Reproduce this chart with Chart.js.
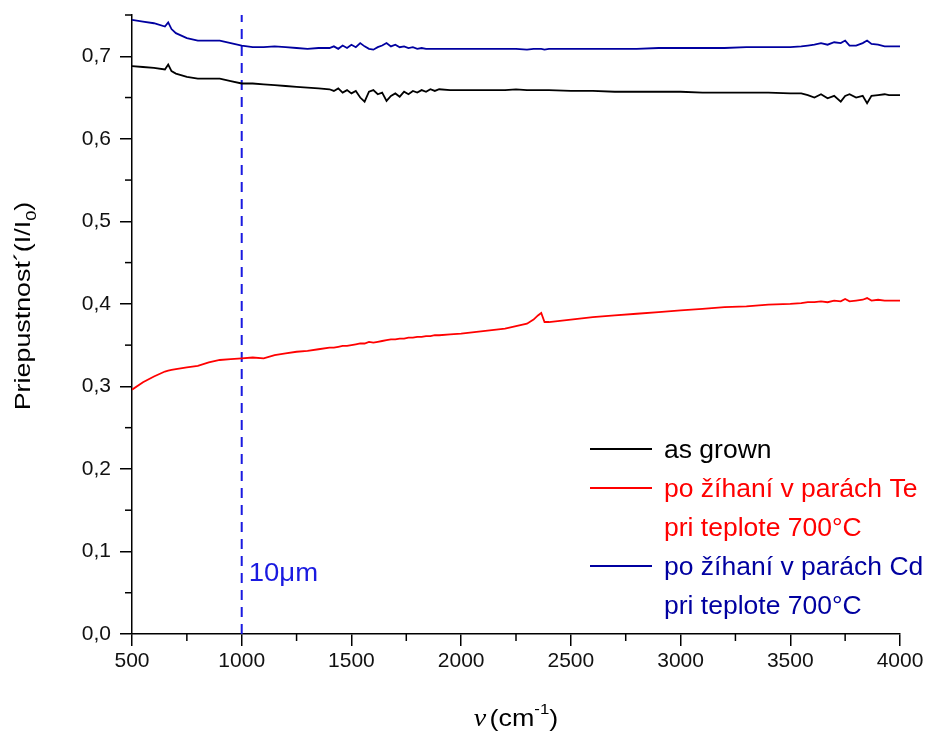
<!DOCTYPE html>
<html>
<head>
<meta charset="utf-8">
<script src="https://cdn.jsdelivr.net/npm/chart.js@4/dist/chart.umd.min.js"></script>
<style>
  body { margin: 0; background: #fff; }
  #wrap { width: 930px; height: 735px; }
</style>
</head>
<body>
<div id="wrap"><canvas id="chart" width="930" height="735"></canvas></div>
<script>
// wavenumber (cm-1), shared by all three spectra
const wavenumber = [500, 550, 600, 650, 665, 680, 700, 750, 800, 850, 900, 950, 1000, 1050, 1100, 1150, 1200, 1250, 1300, 1350,
  1400, 1420, 1440, 1460, 1480, 1500, 1520, 1540, 1560, 1580, 1600, 1620, 1640, 1660, 1680, 1700, 1720, 1740, 1760, 1780,
  1800, 1820, 1840, 1860, 1880, 1900, 1950, 2000, 2100, 2200, 2250, 2300, 2330, 2350, 2365, 2380, 2400, 2500, 2600, 2700,
  2800, 2900, 3000, 3100, 3200, 3300, 3400, 3500, 3550, 3580, 3610, 3640, 3670, 3700, 3730, 3750, 3770, 3800, 3830, 3850,
  3870, 3900, 3930, 3950, 4000];

const asGrown = [0.688, 0.687, 0.686, 0.684, 0.690, 0.682, 0.679, 0.675, 0.673, 0.673, 0.673, 0.670, 0.667, 0.667, 0.666, 0.665, 0.664, 0.663, 0.662, 0.661,
  0.660, 0.658, 0.661, 0.656, 0.659, 0.655, 0.658, 0.650, 0.645, 0.657, 0.659, 0.654, 0.656, 0.646, 0.652, 0.655, 0.651, 0.657, 0.654, 0.658,
  0.656, 0.659, 0.657, 0.660, 0.658, 0.660, 0.659, 0.659, 0.659, 0.659, 0.660, 0.659, 0.659, 0.659, 0.659, 0.659, 0.659, 0.658, 0.658, 0.657,
  0.657, 0.657, 0.657, 0.656, 0.656, 0.656, 0.656, 0.655, 0.655, 0.653, 0.650, 0.654, 0.649, 0.652, 0.645, 0.652, 0.654, 0.650, 0.652, 0.643,
  0.652, 0.653, 0.654, 0.653, 0.653];

const teAnnealed = [0.296, 0.305, 0.312, 0.318, 0.319, 0.320, 0.321, 0.323, 0.325, 0.329, 0.332, 0.333, 0.334, 0.335, 0.334, 0.338, 0.340, 0.342, 0.343, 0.345,
  0.347, 0.347, 0.348, 0.349, 0.349, 0.350, 0.351, 0.352, 0.352, 0.354, 0.353, 0.354, 0.355, 0.356, 0.357, 0.357, 0.358, 0.358, 0.359, 0.359,
  0.360, 0.360, 0.361, 0.361, 0.362, 0.362, 0.363, 0.364, 0.367, 0.370, 0.373, 0.376, 0.381, 0.386, 0.389, 0.378, 0.378, 0.381, 0.384, 0.386,
  0.388, 0.390, 0.392, 0.394, 0.396, 0.397, 0.399, 0.400, 0.401, 0.402, 0.402, 0.403, 0.402, 0.404, 0.403, 0.406, 0.403, 0.404, 0.405, 0.407,
  0.404, 0.405, 0.404, 0.404, 0.404];

const cdAnnealed = [0.744, 0.742, 0.740, 0.736, 0.741, 0.733, 0.728, 0.722, 0.719, 0.719, 0.719, 0.716, 0.713, 0.711, 0.711, 0.712, 0.711, 0.710, 0.709, 0.710,
  0.710, 0.712, 0.709, 0.713, 0.710, 0.714, 0.711, 0.716, 0.712, 0.709, 0.708, 0.711, 0.713, 0.716, 0.712, 0.714, 0.711, 0.712, 0.710, 0.711,
  0.709, 0.710, 0.709, 0.709, 0.709, 0.709, 0.709, 0.709, 0.709, 0.709, 0.709, 0.708, 0.709, 0.709, 0.709, 0.708, 0.709, 0.709, 0.709, 0.709,
  0.709, 0.710, 0.710, 0.710, 0.710, 0.711, 0.711, 0.711, 0.712, 0.713, 0.714, 0.716, 0.714, 0.717, 0.716, 0.719, 0.713, 0.713, 0.716, 0.719,
  0.715, 0.714, 0.712, 0.712, 0.712];

// 10 um marker
const markerX = [1000, 1000];
const markerY = [0, 0.75];

const xTicks = [500, 1000, 1500, 2000, 2500, 3000, 3500, 4000];
const yTicks = [0, 0.1, 0.2, 0.3, 0.4, 0.5, 0.6, 0.7];

const legendLines = [
  { text: "as grown", color: "#000000", sample: true },
  { text: "po žíhaní v parách Te", color: "#ff0000", sample: true },
  { text: "pri teplote 700°C", color: "#ff0000", sample: false },
  { text: "po žíhaní v parách Cd", color: "#0000a0", sample: true },
  { text: "pri teplote 700°C", color: "#0000a0", sample: false }
];

const FONT = "'Liberation Sans', Arial, sans-serif";

function pairs(xs, ys) {
  return xs.map((x, i) => ({ x: x, y: ys[i] }));
}

// pieces of text drawn one after another, stretched along the text direction
function drawRuns(ctx, runs, x, y, stretch) {
  let total = 0;
  runs.forEach(r => { ctx.font = r.font; r.w = ctx.measureText(r.text).width; total += r.w + (r.gap || 0); });
  ctx.save();
  ctx.translate(x, y);
  ctx.scale(stretch, 1);
  let cx = -total / 2;
  runs.forEach(r => {
    ctx.font = r.font;
    ctx.fillText(r.text, cx, r.dy || 0);
    cx += r.w + (r.gap || 0);
  });
  ctx.restore();
}

// minor ticks, titles with sub/superscripts, 10um label and legend
const decorPlugin = {
  id: "decor",
  afterDraw(chart) {
    const ctx = chart.ctx;
    const xs = chart.scales.x, ys = chart.scales.y;
    const area = chart.chartArea;
    ctx.save();
    ctx.strokeStyle = "#000";
    ctx.lineWidth = 1.5;
    for (let v = 750; v < 4000; v += 500) {
      const px = xs.getPixelForValue(v);
      ctx.beginPath();
      ctx.moveTo(px, area.bottom);
      ctx.lineTo(px, area.bottom + 7);
      ctx.stroke();
    }
    for (let v = 0.05; v < 0.75; v += 0.1) {
      const py = ys.getPixelForValue(v);
      ctx.beginPath();
      ctx.moveTo(area.left, py);
      ctx.lineTo(area.left - 7, py);
      ctx.stroke();
    }

    ctx.fillStyle = "#000";
    ctx.textAlign = "left";
    ctx.textBaseline = "alphabetic";

    // y title
    ctx.save();
    ctx.translate(30, 306);
    ctx.rotate(-Math.PI / 2);
    drawRuns(ctx, [
      { text: "Priepustnost´(I/I", font: "22px " + FONT },
      { text: "0", font: "15px " + FONT, dy: 6 },
      { text: ")", font: "22px " + FONT }
    ], 0, 0, 1.22);
    ctx.restore();

    // x title
    drawRuns(ctx, [
      { text: "ν", font: "italic 25px 'Liberation Serif', serif", gap: 3 },
      { text: "(cm", font: "24px " + FONT },
      { text: "-1", font: "15px " + FONT, dy: -12 },
      { text: ")", font: "24px " + FONT }
    ], (area.left + area.right) / 2, 726, 1.12);

    // 10um label
    ctx.fillStyle = "#1a1ae0";
    ctx.textBaseline = "middle";
    ctx.save();
    ctx.translate(xs.getPixelForValue(1000) + 7, ys.getPixelForValue(0.072));
    ctx.scale(1.1, 1);
    ctx.font = "25px " + FONT;
    ctx.fillText("10μm", 0, 0);
    ctx.restore();

    // legend
    legendLines.forEach((item, i) => {
      const y = 451 + i * 39;
      if (item.sample) {
        ctx.strokeStyle = item.color;
        ctx.lineWidth = 1.8;
        ctx.beginPath();
        ctx.moveTo(590, y - 2);
        ctx.lineTo(652, y - 2);
        ctx.stroke();
      }
      ctx.fillStyle = item.color;
      ctx.save();
      ctx.translate(664, y);
      ctx.scale(1.06, 1);
      ctx.font = "25px " + FONT;
      ctx.fillText(item.text, 0, 0);
      ctx.restore();
    });
    ctx.restore();
  }
};

const ctx = document.getElementById("chart").getContext("2d");
new Chart(ctx, {
  type: "line",
  data: {
    datasets: [
      { label: "as grown", data: pairs(wavenumber, asGrown), borderColor: "#000000" },
      { label: "po žíhaní v parách Te", data: pairs(wavenumber, teAnnealed), borderColor: "#ff0000" },
      { label: "po žíhaní v parách Cd", data: pairs(wavenumber, cdAnnealed), borderColor: "#0000a0" },
      { label: "10um", data: pairs(markerX, markerY), borderColor: "#1a1ae0", borderDash: [10, 7], borderWidth: 2 }
    ]
  },
  options: {
    responsive: false,
    animation: false,
    layout: { padding: { left: 0, top: 15, right: 30, bottom: 0 } },
    elements: {
      point: { radius: 0 },
      line: { borderWidth: 1.8, tension: 0 }
    },
    plugins: {
      legend: { display: false },
      tooltip: { enabled: false }
    },
    scales: {
      x: {
        type: "linear",
        min: 500,
        max: 4000,
        afterBuildTicks: s => { s.ticks = xTicks.map(v => ({ value: v })); },
        afterFit: s => { s.height = 101; s.paddingLeft = 0; s.paddingRight = 0; },
        grid: { drawOnChartArea: false, drawTicks: true, tickLength: 12, color: "#000", lineWidth: 1.5 },
        border: { display: true, color: "#000", width: 1.5 },
        ticks: { color: "#111", font: { family: FONT, size: 21 }, padding: 3, maxRotation: 0, callback: v => String(v) }
      },
      y: {
        type: "linear",
        min: 0,
        max: 0.75,
        afterBuildTicks: s => { s.ticks = yTicks.map(v => ({ value: v })); },
        afterFit: s => { s.width = 132; s.paddingTop = 0; s.paddingBottom = 0; },
        grid: { drawOnChartArea: false, drawTicks: true, tickLength: 12, color: "#000", lineWidth: 1.5 },
        border: { display: true, color: "#000", width: 1.5 },
        ticks: {
          color: "#111",
          font: { family: FONT, size: 21 },
          padding: 9,
          callback: v => v.toFixed(1).replace(".", ",")
        }
      }
    }
  },
  plugins: [decorPlugin]
});
</script>
</body>
</html>
